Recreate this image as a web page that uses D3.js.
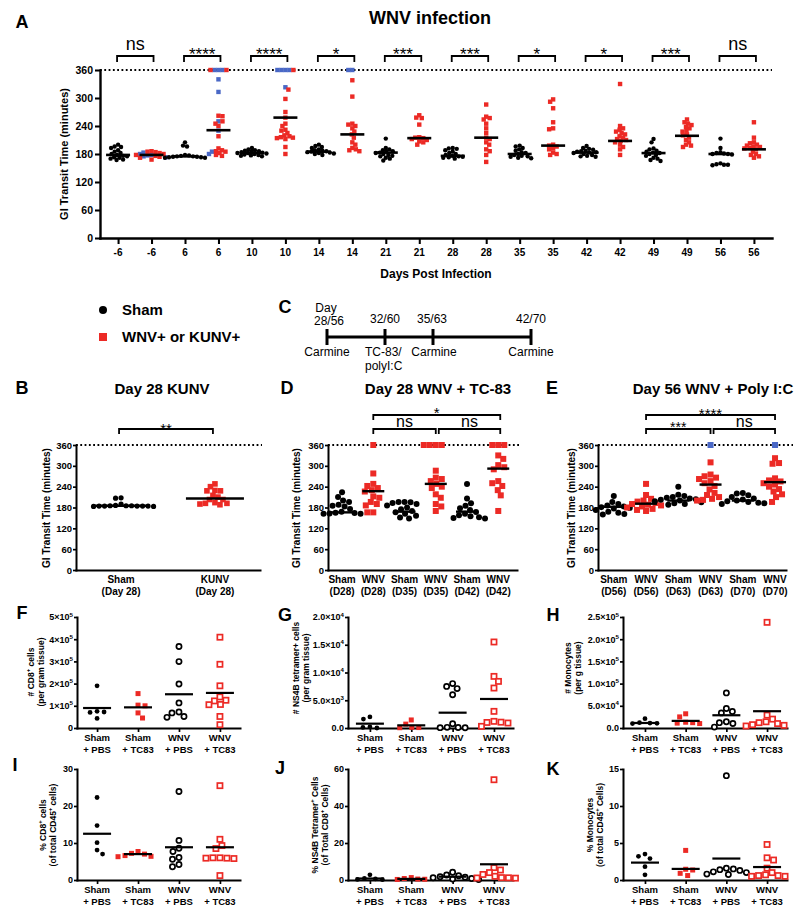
<!DOCTYPE html>
<html><head><meta charset="utf-8">
<script src="https://cdn.jsdelivr.net/npm/d3@7"></script>
<style>body{margin:0;background:#fff}svg{display:block}text{font-family:"Liberation Sans",Arial,Helvetica,sans-serif}</style>
</head><body><svg id="chart" width="800" height="922"></svg>
<script>
const RED="#ec2a25", BLUE="#4a68c6";

// ---------- Panel A data ----------
const aDays=["-6","6","10","14","21","28","35","42","49","56"];
const aSham=[
 [200,196,195,193,188,185,182,180,178,176,175,173,172,170,168,167],
 [205,198,196,178,177,176,175,175,174,174,173,173,172,172],
 [193,190,188,187,186,185,184,183,182,182,181,180,179,178,177,176,175],
 [200,197,195,193,190,188,187,186,185,184,183,182,181,180,178],
 [213,193,190,188,186,185,183,182,180,178,176,175,172,170,166],
 [193,192,191,188,185,182,180,178,176,175,174,173,172,170],
 [198,196,193,190,187,184,182,180,178,176,175,174,172,171],
 [197,193,191,189,187,186,185,184,183,182,180,178,176,175,174],
 [212,205,192,190,187,185,183,182,180,178,176,172,170,167,165],
 [213,193,184,182,181,180,180,179,160,158,157,157,156]
];
const aWnvRed=[
 [186,185,184,182,180,178,176,174,172,168],
 [360,360,262,261,250,245,240,218,192,188,186,185,182,178,176],
 [360,318,298,270,258,245,240,232,230,225,220,218,216,215,214,212,195,180],
 [338,303,245,243,240,235,228,222,215,205,200,193,190,188,186],
 [263,258,257,243,216,215,214,212,210,207,205,200],
 [286,260,257,254,245,235,225,215,212,205,200,190,186,178,163],
 [297,292,278,248,235,233,200,198,196,192,190,183,180,178],
 [330,240,235,232,228,225,222,218,215,212,210,208,205,200,195,190,178],
 [254,248,245,242,238,235,230,228,222,220,215,210,205,200,198,195],
 [248,215,205,203,200,198,196,195,193,192,190,185,180,178,175,172]
];
const aWnvBlue=[
 [183,180,178,177,175,173],
 [360,360,360,340,313,250,230,185,180],
 [360,360,360,360,323],
 [360,360],
 [],[],[],[],[],[]
];
const aShamLine=[178,175,182,185,183,176,180,183,182,180];
const aWnvLine=[178,231,258,222,214,215,198,208,219,190];
const aSig=["ns","****","****","*","***","***","*","*","***","ns"];
const giTicks=[0,60,120,180,240,300,360];

// ---------- Panel B data ----------
const bCats=[["Sham","(Day 28)"],["KUNV","(Day 28)"]];
const bSham=[208,207,190,186,185,185,184,184,184,184,183,183,184,185];
const bKunv=[248,240,229,228,228,215,210,203,203,194,192,190,192,188];
const bLines=[185,206];

// ---------- Panel D data ----------
const dCats=[["Sham","(D28)"],["WNV","(D28)"],["Sham","(D35)"],["WNV","(D35)"],["Sham","(D42)"],["WNV","(D42)"]];
const dSham28=[224,210,200,196,188,185,183,176,168,165,163,162,162,164];
const dWnv28=[360,278,248,242,236,230,226,212,208,196,190,186,166,166];
const dSham35=[196,196,195,193,190,186,180,175,170,166,162,156,151,148];
const dWnv35=[360,360,360,360,286,266,262,256,248,240,236,218,208,190,183,170];
const dSham42=[248,206,192,185,178,173,167,162,158,155,152,150,148];
const dWnv42=[360,360,360,330,320,302,296,290,256,250,242,230,215,170];
const dLines=[166,227,168,248,168,292];

// ---------- Panel E data ----------
const eCats=[["Sham","(D56)"],["WNV","(D56)"],["Sham","(D63)"],["WNV","(D63)"],["Sham","(D70)"],["WNV","(D70)"]];
const eSham56=[213,196,190,186,183,181,179,177,173,168,165,161,160];
const eWnv56=[248,216,205,200,197,193,190,188,186,183,180,176,173,170];
const eSham63=[240,217,213,210,208,206,204,202,200,198,195,192,190,188];
const eWnv63Red=[310,275,270,266,262,256,250,242,232,222,216,210,205,202,200];
const eWnv63Blue=[360];
const eSham70=[222,220,215,210,206,203,200,198,196,194,192,190];
const eWnv70Red=[322,308,306,264,258,255,250,246,240,233,226,218,210,196];
const eWnv70Blue=[360];
const eLines=[182,191,200,246,200,253];

// ---------- Panels F-K data ----------
const fkCats=[["Sham","+ PBS"],["Sham","+ TC83"],["WNV","+ PBS"],["WNV","+ TC83"]];
const fShamPBS=[190000,75000,72000,70000,43000];
const fShamTC83=[155000,103000,100000,68000,45000];
const fWnvPBS=[367000,299000,198000,113000,72000,68000,52000,48000];
const fWnvTC83=[409000,287000,190000,140000,125000,122000,106000,105000,52000,15000];
const fLines=[90000,93000,152000,158000];
const fTicks=[0,100000,200000,300000,400000,500000];
const fTickLabels=["0","1×10^5","2×10^5","3×10^5","4×10^5","5×10^5"];

const gShamPBS=[2000,1600,200,100,0];
const gShamTC83=[1450,700,120,80,50];
const gWnvPBS=[8000,7500,7100,6000,780,120,100,60,40];
const gWnvTC83=[15500,9300,8400,7200,3000,1200,1050,1000,900,300];
const gLines=[780,480,2760,5230];
const gTicks=[0,5000,10000,15000,20000];
const gTickLabels=["0.0","5.0×10^3","1.0×10^4","1.5×10^4","2.0×10^4"];

const hShamPBS=[21000,12000,11000,10500,10000];
const hShamTC83=[32000,25000,13000,12000,11000,10000];
const hWnvPBS=[79000,44000,37000,34000,14000,12000,10000,2000];
const hWnvTC83=[238000,29000,20000,14000,12000,10000,7500,6000,4500];
const hLines=[11300,16000,28700,37800];
const hTicks=[0,50000,100000,150000,200000,250000];
const hTickLabels=["0.0","5.0×10^4","1.0×10^5","1.5×10^5","2.0×10^5","2.5×10^5"];

const iShamPBS=[22.3,14.7,10.1,8.1,7.0];
const iShamTC83=[7.7,7.2,7.0,6.6,6.4,6.3];
const iWnvPBS=[23.9,10.7,8.6,7.7,6.1,5.6,4.2,3.6];
const iWnvTC83=[25.5,11.0,9.3,8.5,6.0,6.0,5.9,5.9,5.8,1.2];
const iLines=[12.5,7.0,8.85,8.85];
const iTicks=[0,10,20,30];

const jShamPBS=[2.8,0.8,0.3,0.2,0.6];
const jShamTC83=[1.3,0.8,0.5,0.3,0.4];
const jWnvPBS=[4.2,2.7,2.3,1.8,1.5,1.2,0.8,0.5,0.3];
const jWnvTC83=[54.2,6.7,5.4,4.0,3.0,2.0,1.3,1.2,1.0,1.1];
const jLines=[0.8,0.6,1.8,8.5];
const jTicks=[0,20,40,60];

const kShamPBS=[3.5,3.2,2.9,1.8,0.7];
const kShamTC83=[4.0,1.45,1.35,0.9,0.6];
const kWnvPBS=[14.1,1.6,1.5,1.4,1.3,1.1,1.0,0.8,0.75];
const kWnvTC83=[4.8,3.0,2.7,1.6,1.0,0.7,0.6,0.6,0.5,0.5];
const kLines=[2.35,1.5,2.9,1.75];
const kTicks=[0,5,10,15];

// ---------- helpers ----------
const svg=d3.select("#chart");

function rich(sel,str,size){
  const parts=str.split("^");
  sel.text(null);
  parts.forEach((p,i)=>{
    if(!p) return;
    const ts=sel.append("tspan").text(p);
    if(i%2===1) ts.attr("font-size",size*0.68).attr("dy",-size*0.42);
    else if(i>0) ts.attr("dy",size*0.42);
  });
}
function txt(x,y,str,o={}){
  const size=o.size||10;
  const t=svg.append("text").attr("x",x).attr("y",y)
    .attr("font-size",size).attr("font-weight",o.weight||"bold")
    .attr("text-anchor",o.anchor||"middle").attr("fill","#000");
  if(o.rotate){t.attr("transform",`rotate(-90,${x},${y})`).attr("dy","0.35em");}
  rich(t,str,size);
  return t;
}
function swarm(items,diam){
  const sorted=items.slice().sort((a,b)=>a.py-b.py);
  const placed=[];let flip=1;
  sorted.forEach(it=>{
    let best=0;
    outer: for(let k=0;k<300;k++){
      const cands=k===0?[0]:[flip*k*0.5,-flip*k*0.5];
      for(const c of cands){
        if(placed.every(p=>Math.hypot(p.dx-c,p.py-it.py)>=diam)){best=c;break outer;}
      }
    }
    it.dx=best;placed.push(it);flip=-flip;
  });
}
function marker(g,cx,cy,d,o){
  if(d.shape==="circle"){
    if(d.open) g.append("circle").attr("cx",cx).attr("cy",cy).attr("r",o.openR).attr("fill","#fff").attr("stroke",d.color).attr("stroke-width",o.openW);
    else g.append("circle").attr("cx",cx).attr("cy",cy).attr("r",o.r).attr("fill",d.color);
  } else {
    if(d.open){const s=o.openSq;g.append("rect").attr("x",cx-s/2).attr("y",cy-s/2).attr("width",s).attr("height",s).attr("fill","#fff").attr("stroke",d.color).attr("stroke-width",o.openW);}
    else {const s=o.sq;g.append("rect").attr("x",cx-s/2).attr("y",cy-s/2).attr("width",s).attr("height",s).attr("fill",d.color);}
  }
}
function bracket(x1,x2,yTop,leg,label,ly,size,weight){
  svg.append("path").attr("d",`M${x1},${yTop+leg}V${yTop}H${x2}V${yTop+leg}`)
    .attr("fill","none").attr("stroke","#000").attr("stroke-width",1.8);
  txt((x1+x2)/2,ly,label,{size:size,weight:weight||"normal"});
}
function dotPanel(o){
  const g=svg.append("g");
  const x=d3.scaleLinear().domain(o.xDomain).range(o.xRange);
  const y=d3.scaleLinear().domain(o.yDomain).range(o.yRange);
  if(o.dotted!=null){
    g.append("line").attr("x1",o.xRange[0]).attr("x2",o.dottedEnd)
     .attr("y1",y(o.dotted)).attr("y2",y(o.dotted)).attr("stroke","#000")
     .attr("stroke-width",2).attr("stroke-dasharray","1.8,2.5");
  }
  const ya=d3.axisLeft(y).tickValues(o.yTicks).tickSize(o.tickSize).tickSizeOuter(0).tickPadding(o.tickPad!=null?o.tickPad:2);
  const yg=g.append("g").attr("transform",`translate(${o.xRange[0]},0)`).call(ya);
  const xa=d3.axisBottom(x).tickValues(d3.range(o.groups.length)).tickSize(o.xTickSize).tickSizeOuter(0).tickFormat(()=>"");
  const xg=g.append("g").attr("transform",`translate(0,${o.yRange[0]})`).call(xa);
  [yg,xg].forEach(a=>{
    a.select(".domain").attr("stroke-width",o.axisW).attr("stroke-linecap","square");
    a.selectAll(".tick line").attr("stroke-width",o.axisW*0.85);
  });
  yg.selectAll(".tick text").attr("font-size",o.yTickSize).attr("font-weight","bold")
    .attr("font-family",'"Liberation Sans",Arial,sans-serif').attr("fill","#000")
    .each(function(d,i){ if(o.yTickLabels) rich(d3.select(this),o.yTickLabels[i],o.yTickSize); });
  o.groups.forEach((grp,i)=>{
    const items=grp.items.map(d=>Object.assign({},d,{py:y(d.v)}));
    swarm(items,o.diam);
    items.forEach(d=>marker(g,x(i)+d.dx,d.py,d,o));
    g.append("line").attr("x1",x(i)-o.lineHalf).attr("x2",x(i)+o.lineHalf)
     .attr("y1",y(grp.line)).attr("y2",y(grp.line)).attr("stroke","#000").attr("stroke-width",o.lineW);
  });
  o.cats.forEach((c,i)=>{
    const lines=Array.isArray(c)?c:[c];
    lines.forEach((l,j)=>txt(x(i),o.catY[j],l,{size:o.catSize}));
  });
  return {x,y};
}
const pts=(arr,shape,color,open)=>arr.map(v=>({v,shape,color,open:!!open}));

// ---------- Panel A ----------
const aGroups=[];const aCatLabels=[];
aDays.forEach((d,i)=>{
  aGroups.push({items:pts(aSham[i],"circle","#000"),line:aShamLine[i]});
  aGroups.push({items:pts(aWnvBlue[i],"square",BLUE).concat(pts(aWnvRed[i],"square",RED)),line:aWnvLine[i]});
  aCatLabels.push(d,d);
});
const A=dotPanel({xDomain:[-0.54,19.54],xRange:[100,772],yDomain:[0,360],yRange:[238,70],
  yTicks:giTicks,tickSize:5,xTickSize:6,axisW:2.4,yTickSize:10.5,dotted:360,dottedEnd:772,
  groups:aGroups,diam:3.7,r:2.2,sq:4.4,lineHalf:12,lineW:2.6,cats:aCatLabels,catY:[256],catSize:10});
aDays.forEach((d,i)=>{
  const s=aSig[i];
  if(s==="ns") bracket(A.x(2*i)-1,A.x(2*i+1)+2,56,6,s,50,18,"normal");
  else bracket(A.x(2*i)-1,A.x(2*i+1)+2,56,6,s,60,17,"normal");
});
txt(430,24,"WNV infection",{size:18});
txt(22,28,"A",{size:18});
txt(64,154,"GI Transit Time (minutes)",{size:11,rotate:true});
txt(436,278,"Days Post Infection",{size:12});

// ---------- Legend & C ----------
svg.append("circle").attr("cx",103).attr("cy",310).attr("r",4).attr("fill","#000");
svg.append("rect").attr("x",99).attr("y",333).attr("width",8).attr("height",8).attr("fill",RED);
txt(122,315,"Sham",{size:15,anchor:"start"});
txt(122,342,"WNV+ or KUNV+",{size:15,anchor:"start"});
txt(285,313,"C",{size:18});
const tl=[327,385,433,531];
svg.append("line").attr("x1",tl[0]).attr("x2",tl[3]).attr("y1",337).attr("y2",337).attr("stroke","#000").attr("stroke-width",3);
tl.forEach(t=>svg.append("line").attr("x1",t).attr("x2",t).attr("y1",329).attr("y2",345).attr("stroke","#000").attr("stroke-width",3));
txt(326,312,"Day",{size:12,weight:"normal"});
txt(329,325,"28/56",{size:12,weight:"normal"});
txt(385,323,"32/60",{size:12,weight:"normal"});
txt(432,323,"35/63",{size:12,weight:"normal"});
txt(531,323,"42/70",{size:12,weight:"normal"});
txt(327,356,"Carmine",{size:12,weight:"normal"});
txt(365,356,"TC-83/",{size:12,weight:"normal",anchor:"start"});
txt(365,370,"polyI:C",{size:12,weight:"normal",anchor:"start"});
txt(434,356,"Carmine",{size:12,weight:"normal"});
txt(531,356,"Carmine",{size:12,weight:"normal"});

// ---------- Panel B ----------
const gi={yTicks:giTicks,tickSize:3,tickPad:1,xTickSize:0,axisW:2,yTickSize:9.5,dotted:360,yDomain:[0,360],yRange:[570,445],catY:[583,595],catSize:10,lineW:2.4};
const B=dotPanel(Object.assign({},gi,{xDomain:[-0.48,1.48],xRange:[76,260],dottedEnd:262,
  groups:[{items:pts(bSham,"circle","#000"),line:bLines[0]},{items:pts(bKunv,"square",RED),line:bLines[1]}],
  diam:5.2,r:2.6,sq:5.6,lineHalf:29,cats:bCats}));
bracket(B.x(0)-2,B.x(1)-2,429,5,"**",434,15);
txt(22,394,"B",{size:18});
txt(162,394,"Day 28 KUNV",{size:15});
txt(46,508,"GI Transit Time (minutes)",{size:10,rotate:true});

// ---------- Panel D ----------
const D=dotPanel(Object.assign({},gi,{xDomain:[-0.45,5.6],xRange:[328,517],dottedEnd:519,
  groups:[{items:pts(dSham28,"circle","#000"),line:dLines[0]},{items:pts(dWnv28,"square",RED),line:dLines[1]},
          {items:pts(dSham35,"circle","#000"),line:dLines[2]},{items:pts(dWnv35,"square",RED),line:dLines[3]},
          {items:pts(dSham42,"circle","#000"),line:dLines[4]},{items:pts(dWnv42,"square",RED),line:dLines[5]}],
  diam:6,r:3,sq:6,lineHalf:11,cats:dCats}));
bracket(D.x(1),D.x(5)+2,415,5,"*",418,15);
bracket(D.x(1),D.x(3),429,5,"ns",427,16);
bracket(D.x(3)+3,D.x(5)+2,429,5,"ns",427,16);
txt(287,394,"D",{size:18});
txt(438,394,"Day 28 WNV + TC-83",{size:15});
txt(296,508,"GI Transit Time (minutes)",{size:10,rotate:true});

// ---------- Panel E ----------
const E=dotPanel(Object.assign({},gi,{xDomain:[-0.49,5.34],xRange:[598,786],dottedEnd:793,
  groups:[{items:pts(eSham56,"circle","#000"),line:eLines[0]},{items:pts(eWnv56,"square",RED),line:eLines[1]},
          {items:pts(eSham63,"circle","#000"),line:eLines[2]},{items:pts(eWnv63Blue,"square",BLUE).concat(pts(eWnv63Red,"square",RED)),line:eLines[3]},
          {items:pts(eSham70,"circle","#000"),line:eLines[4]},{items:pts(eWnv70Blue,"square",BLUE).concat(pts(eWnv70Red,"square",RED)),line:eLines[5]}],
  diam:6,r:3,sq:6,lineHalf:11,cats:eCats}));
bracket(E.x(1),E.x(5),415,5,"****",419,15);
bracket(E.x(1),E.x(3),429,5,"***",432,14);
bracket(E.x(3)+3,E.x(5),429,5,"ns",427,16);
txt(552,394,"E",{size:18});
txt(713,394,"Day 56 WNV + Poly I:C",{size:15});
txt(571,508,"GI Transit Time (minutes)",{size:10,rotate:true});

// ---------- Panels F-K ----------
function fkGroups(sp,st,wp,wt,lines){
  return [{items:pts(sp,"circle","#000"),line:lines[0]},{items:pts(st,"square",RED),line:lines[1]},
          {items:pts(wp,"circle","#000",true),line:lines[2]},{items:pts(wt,"square",RED,true),line:lines[3]}];
}
const fkStyle={tickSize:3,tickPad:1,xTickSize:4,axisW:2,yTickSize:9,diam:6.6,r:2.4,sq:5,openR:2.6,openSq:5.2,openW:1.7,lineHalf:14,lineW:2.2,cats:fkCats,catSize:9.5};
const colF={xDomain:[-0.49,3.49],xRange:[77,240]};
const colG={xDomain:[-0.53,3.46],xRange:[348,513]};
const colH={xDomain:[-0.54,3.49],xRange:[623,787]};
const row1={yRange:[728,617],catY:[741,753]};
const row2={yRange:[880,769],catY:[893,905]};

dotPanel(Object.assign({},fkStyle,colF,row1,{yDomain:[0,500000],yTicks:fTicks,yTickLabels:fTickLabels,groups:fkGroups(fShamPBS,fShamTC83,fWnvPBS,fWnvTC83,fLines)}));
dotPanel(Object.assign({},fkStyle,colG,row1,{yDomain:[0,20000],yTicks:gTicks,yTickLabels:gTickLabels,groups:fkGroups(gShamPBS,gShamTC83,gWnvPBS,gWnvTC83,gLines)}));
dotPanel(Object.assign({},fkStyle,colH,row1,{yDomain:[0,250000],yTicks:hTicks,yTickLabels:hTickLabels,groups:fkGroups(hShamPBS,hShamTC83,hWnvPBS,hWnvTC83,hLines)}));
dotPanel(Object.assign({},fkStyle,colF,row2,{yDomain:[0,30],yTicks:iTicks,groups:fkGroups(iShamPBS,iShamTC83,iWnvPBS,iWnvTC83,iLines)}));
dotPanel(Object.assign({},fkStyle,colG,row2,{yDomain:[0,60],yTicks:jTicks,groups:fkGroups(jShamPBS,jShamTC83,jWnvPBS,jWnvTC83,jLines)}));
dotPanel(Object.assign({},fkStyle,colH,row2,{yDomain:[0,15],yTicks:kTicks,groups:fkGroups(kShamPBS,kShamTC83,kWnvPBS,kWnvTC83,kLines)}));

txt(22,619,"F",{size:18}); txt(285,621,"G",{size:18}); txt(553,621,"H",{size:18});
txt(15,771,"I",{size:18}); txt(280,774,"J",{size:18}); txt(553,775,"K",{size:18});
txt(31,672,"# CD8^+^ cells",{size:8.5,rotate:true});
txt(41,672,"(per gram tissue)",{size:8.5,rotate:true});
txt(296,668,"# NS4B tetramer+ cells",{size:8.5,rotate:true});
txt(306,668,"(per gram tissue)",{size:8.5,rotate:true});
txt(568,668,"# Monocytes",{size:8.5,rotate:true});
txt(578,668,"(per g tissue)",{size:8.5,rotate:true});
txt(43,825,"% CD8^+^ cells",{size:8.5,rotate:true});
txt(53,825,"(of total CD45^+^ cells)",{size:8.5,rotate:true});
txt(315,825,"% NS4B Tetramer^+^ Cells",{size:8.5,rotate:true});
txt(325,825,"(of Total CD8^+^ Cells)",{size:8.5,rotate:true});
txt(590,825,"% Monocytes",{size:8.5,rotate:true});
txt(600,825,"(of total CD45^+^ Cells)",{size:8.5,rotate:true});
</script></body></html>
